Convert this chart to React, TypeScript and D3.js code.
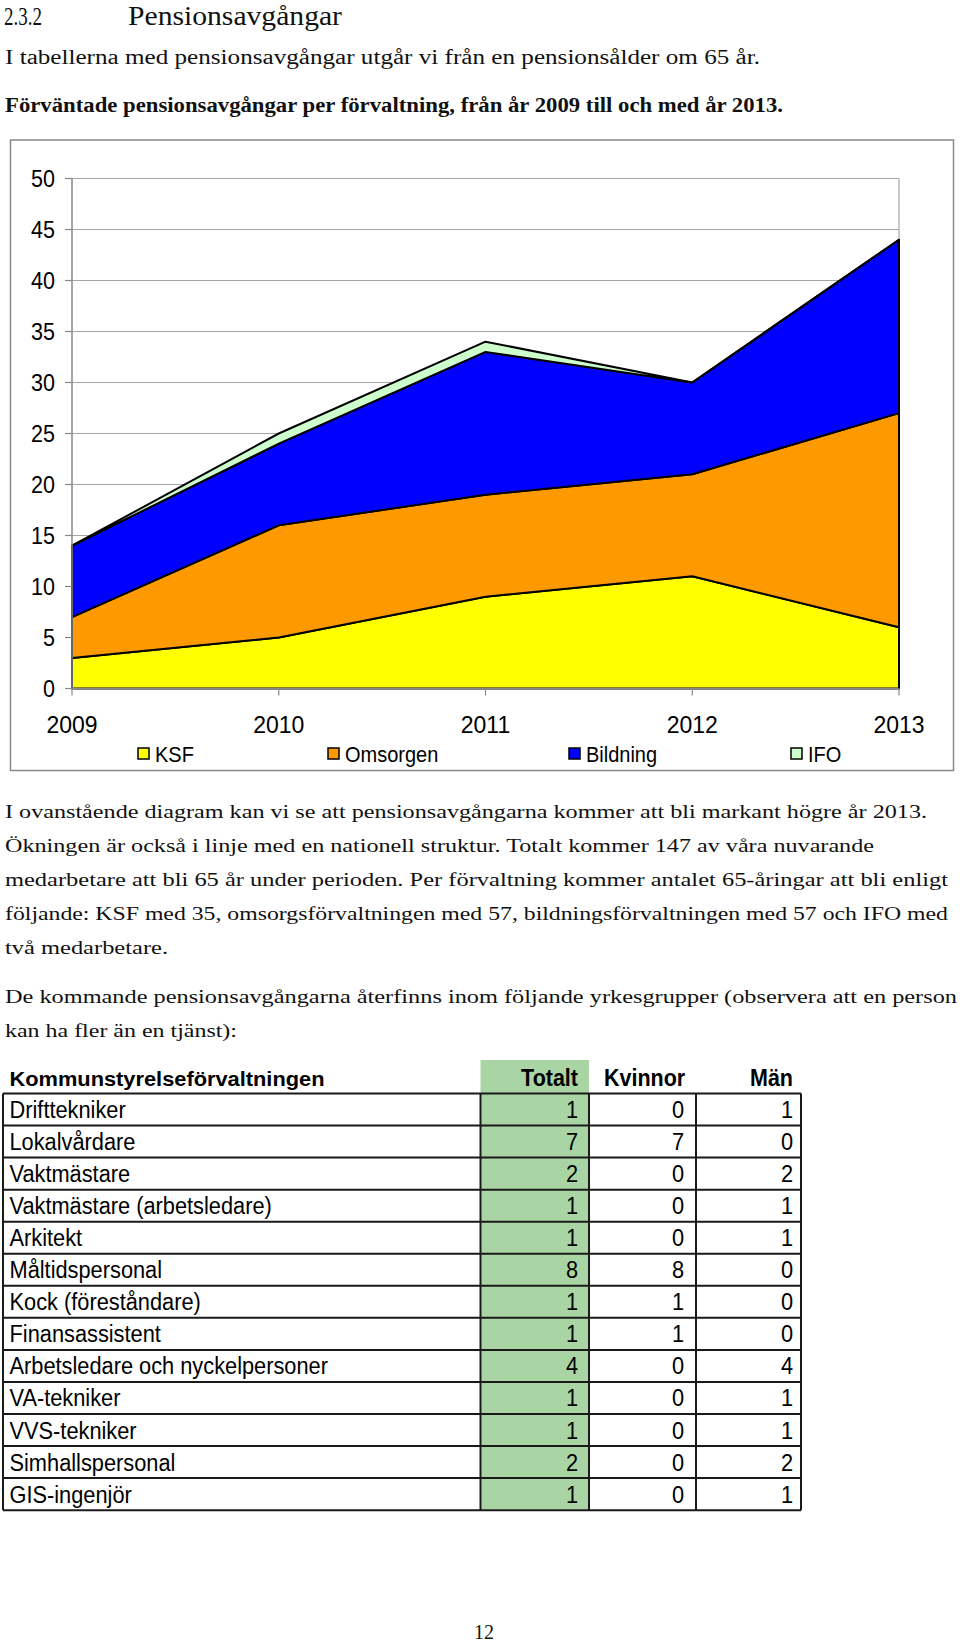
import React from "react";
import * as d3 from "d3";

const years = ["2009", "2010", "2011", "2012", "2013"];
const seriesNames = ["KSF", "Omsorgen", "Bildning", "IFO"];
const ksf = [3, 5, 9, 11, 6];
const omsorgen = [4, 11, 10, 10, 21];
const bildning = [7, 8, 14, 9, 17];
const ifo = [0, 1, 1, 0, 0];
const seriesColors = ["#ffff00", "#ff9900", "#0000ff", "#ccffcc"];
const yTicks = [0, 5, 10, 15, 20, 25, 30, 35, 40, 45, 50];

const occupations = [
  "Drifttekniker",
  "Lokalvårdare",
  "Vaktmästare",
  "Vaktmästare (arbetsledare)",
  "Arkitekt",
  "Måltidspersonal",
  "Kock (föreståndare)",
  "Finansassistent",
  "Arbetsledare och nyckelpersoner",
  "VA-tekniker",
  "VVS-tekniker",
  "Simhallspersonal",
  "GIS-ingenjör",
];
const totalt = [1, 7, 2, 1, 1, 8, 1, 1, 4, 1, 1, 2, 1];
const kvinnor = [0, 7, 0, 0, 0, 8, 1, 1, 0, 0, 0, 0, 0];
const man = [1, 0, 2, 1, 1, 0, 0, 0, 4, 1, 1, 2, 1];
const tableHeaders = ["Kommunstyrelseförvaltningen", "Totalt", "Kvinnor", "Män"];

const bodyLines = [
  { t: "I ovanstående diagram kan vi se att pensionsavgångarna kommer att bli markant högre år 2013.", y: 818, w: 922 },
  { t: "Ökningen är också i linje med en nationell struktur. Totalt kommer 147 av våra nuvarande", y: 852, w: 869 },
  { t: "medarbetare att bli 65 år under perioden. Per förvaltning kommer antalet 65-åringar att bli enligt", y: 886, w: 943 },
  { t: "följande: KSF med 35, omsorgsförvaltningen med 57, bildningsförvaltningen med 57 och IFO med", y: 920, w: 943 },
  { t: "två medarbetare.", y: 954, w: 163 },
  { t: "De kommande pensionsavgångarna återfinns inom följande yrkesgrupper (observera att en person", y: 1003, w: 952 },
  { t: "kan ha fler än en tjänst):", y: 1037, w: 232 },
];

const SERIF = "'Liberation Serif', 'Times New Roman', serif";
const SANS = "'Liberation Sans', Arial, sans-serif";

function T(props: {
  x: number;
  y: number;
  size: number;
  sy?: number;
  anchor?: string;
  bold?: boolean;
  children: any;
}) {
  const { x, y, size, sy = 1.1, anchor = "start", bold = false, children } = props;
  return (
    <text
      transform={`translate(${x},${y}) scale(1,${sy})`}
      textAnchor={anchor}
      fontFamily={SANS}
      fontSize={size}
      fontWeight={bold ? "bold" : "normal"}
      fill="#000"
    >
      {children}
    </text>
  );
}

export default function App() {
  const W = 960;
  const H = 1648;

  const plot = { left: 72, right: 899, top: 178.5, bottom: 688.5 };
  const x = d3.scalePoint<string>().domain(years).range([plot.left, plot.right]);
  const y = d3.scaleLinear().domain([0, 50]).range([plot.bottom, plot.top]);

  const rows = years.map((yr, i) => ({
    year: yr,
    KSF: ksf[i],
    Omsorgen: omsorgen[i],
    Bildning: bildning[i],
    IFO: ifo[i],
  }));
  const stacked = d3.stack<any>().keys(seriesNames)(rows);
  const area = d3
    .area<any>()
    .x((d) => x(d.data.year) as number)
    .y0((d) => y(d[0]))
    .y1((d) => y(d[1]));

  const legendX = [138, 328, 569, 791];

  const tTop = 1093.5;
  const rowH = 32.05;
  const colX = [3, 480.5, 589, 696, 801];
  const tBottom = tTop + rowH * occupations.length;

  return (
    <div style={{ position: "absolute", left: 0, top: 0, width: W, height: H, background: "#fff" }}>
      <svg width={W} height={H} viewBox={`0 0 ${W} ${H}`} style={{ display: "block" }}>
        <rect x={0} y={0} width={W} height={H} fill="#fff" />
        {/* headings */}
        <text x={4} y={25} fontFamily={SERIF} fontSize={25} fill="#111" textLength={38} lengthAdjust="spacingAndGlyphs">
          2.3.2
        </text>
        <text x={128} y={25} fontFamily={SERIF} fontSize={27} fill="#111" textLength={214} lengthAdjust="spacingAndGlyphs">
          Pensionsavgångar
        </text>
        <text x={5} y={64} fontFamily={SERIF} fontSize={20} fill="#111" textLength={755} lengthAdjust="spacingAndGlyphs">
          I tabellerna med pensionsavgångar utgår vi från en pensionsålder om 65 år.
        </text>
        <text x={5} y={112} fontFamily={SERIF} fontSize={20} fontWeight="bold" fill="#111" textLength={778} lengthAdjust="spacingAndGlyphs">
          Förväntade pensionsavgångar per förvaltning, från år 2009 till och med år 2013.
        </text>

        {/* chart frame */}
        <rect x={10.5} y={140} width={943} height={630.5} fill="#fff" stroke="#888" strokeWidth={1.5} />

        {/* gridlines */}
        {yTicks.map((t) => (
          <line key={"g" + t} x1={plot.left} x2={plot.right} y1={y(t)} y2={y(t)} stroke="#a6a6a6" strokeWidth={1.2} />
        ))}
        <line x1={plot.right} x2={plot.right} y1={plot.top} y2={plot.bottom} stroke="#a6a6a6" strokeWidth={1.2} />

        {/* areas */}
        {stacked.map((s, i) => (
          <path key={s.key} d={area(s) as string} fill={seriesColors[i]} stroke="#000" strokeWidth={2} strokeLinejoin="round" />
        ))}

        {/* axes */}
        <line x1={plot.left} x2={plot.left} y1={plot.top} y2={plot.bottom} stroke="#888" strokeWidth={1.5} />
        <line x1={plot.left} x2={plot.right} y1={plot.bottom} y2={plot.bottom} stroke="#888" strokeWidth={1.5} />
        {yTicks.map((t) => (
          <g key={"yt" + t}>
            <line x1={plot.left - 7} x2={plot.left} y1={y(t)} y2={y(t)} stroke="#888" strokeWidth={1.2} />
            <T x={55} y={y(t) + 8} size={21.5} sy={1.1} anchor="end">
              {t}
            </T>
          </g>
        ))}
        {years.map((yr) => (
          <g key={"xt" + yr}>
            <line x1={x(yr)} x2={x(yr)} y1={plot.bottom} y2={plot.bottom + 7} stroke="#888" strokeWidth={1.2} />
            <T x={x(yr) as number} y={733} size={23} sy={1.08} anchor="middle">
              {yr}
            </T>
          </g>
        ))}

        {/* legend */}
        {seriesNames.map((n, i) => (
          <g key={"lg" + n}>
            <rect x={legendX[i]} y={748} width={11} height={11} fill={seriesColors[i]} stroke="#000" strokeWidth={1.5} />
            <T x={legendX[i] + 17} y={761.5} size={20} sy={1.08}>
              {n}
            </T>
          </g>
        ))}

        {/* body text */}
        {bodyLines.map((l, i) => (
          <text key={"b" + i} x={5} y={l.y} fontFamily={SERIF} fontSize={19.5} fill="#111" textLength={l.w} lengthAdjust="spacingAndGlyphs">
            {l.t}
          </text>
        ))}

        {/* table */}
        <rect x={colX[1]} y={1060} width={colX[2] - colX[1]} height={tBottom - 1060} fill="#a9d5a4" />
        <text x={9.5} y={1086} fontFamily={SANS} fontSize={20} fontWeight="bold" fill="#000" textLength={315} lengthAdjust="spacingAndGlyphs">
          {tableHeaders[0]}
        </text>
        <T x={578} y={1086} size={21.5} sy={1.08} anchor="end" bold>
          {tableHeaders[1]}
        </T>
        <T x={604} y={1086} size={21.5} sy={1.08} bold>
          {tableHeaders[2]}
        </T>
        <T x={793} y={1086} size={21.5} sy={1.08} anchor="end" bold>
          {tableHeaders[3]}
        </T>
        {occupations.map((o, i) => {
          const ty = tTop + rowH * i + 24.5;
          return (
            <g key={"r" + i}>
              <T x={9.5} y={ty} size={21.8} sy={1.08}>
                {o}
              </T>
              <T x={578} y={ty} size={21.8} sy={1.08} anchor="end">
                {totalt[i]}
              </T>
              <T x={684} y={ty} size={21.8} sy={1.08} anchor="end">
                {kvinnor[i]}
              </T>
              <T x={793} y={ty} size={21.8} sy={1.08} anchor="end">
                {man[i]}
              </T>
            </g>
          );
        })}
        {d3.range(occupations.length + 1).map((i) => (
          <line key={"h" + i} x1={colX[0]} x2={colX[4]} y1={tTop + rowH * i} y2={tTop + rowH * i} stroke="#1a1a1a" strokeWidth={2} />
        ))}
        {colX.map((cx, i) => (
          <line key={"v" + i} x1={cx} x2={cx} y1={tTop} y2={tBottom} stroke="#1a1a1a" strokeWidth={2} />
        ))}

        {/* page number */}
        <text x={484} y={1639} textAnchor="middle" fontFamily={SERIF} fontSize={20} fill="#111">
          12
        </text>
      </svg>
    </div>
  );
}
